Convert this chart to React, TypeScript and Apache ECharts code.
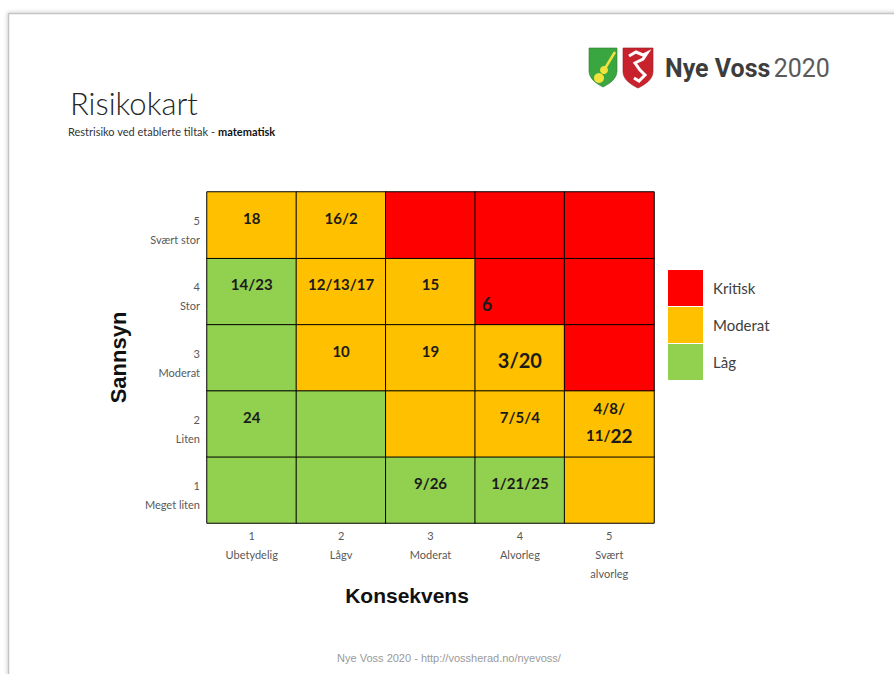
import React, { useEffect, useRef } from "react";
import * as echarts from "echarts";

// ---- data ----
const xTicks = ["1", "2", "3", "4", "5"];
const consequences = ["Ubetydelig", "Lågv", "Moderat", "Alvorleg", "Svært\nalvorleg"];
const yTicks = ["1", "2", "3", "4", "5"];
const likelihoods = ["Meget liten", "Liten", "Moderat", "Stor", "Svært stor"];
const levelNames = ["Låg", "Moderat", "Kritisk"];
const levelColors = ["#92D050", "#FFC000", "#FF0000"];
// risk level per cell; rows from likelihood 1 (bottom) to 5 (top); 0 = Låg, 1 = Moderat, 2 = Kritisk
const riskRows = [
  [0, 0, 0, 0, 1],
  [0, 0, 1, 1, 1],
  [0, 1, 1, 1, 2],
  [0, 1, 1, 2, 2],
  [1, 1, 2, 2, 2],
];
const cellLabels = [
  ["", "", "9/26", "1/21/25", ""],
  ["24", "", "", "7/5/4", "4/8/\n11/22"],
  ["", "10", "19", "3/20", ""],
  ["14/23", "12/13/17", "15", "6", ""],
  ["18", "16/2", "", "", ""],
];

const FONT = "Lato, 'Noto Sans', sans-serif";

let registered = false;
function registerShapes() {
  if (registered) return;
  registered = true;
  const shield = "M0,0 L28,0 L28,23 C28,31 20,36 14,39 C8,36 0,31 0,23 Z";
  echarts.graphic.registerShape("shield", echarts.graphic.extendPath(shield, {}) as any);
}

function cellLabelStyle(text: string): any {
  if (text.includes("\n")) {
    return { offset: [0, -2], lineHeight: 27 };
  }
  if (text === "6") return { offset: [-33, 13], fontSize: 18 };
  if (text === "3/20") return { offset: [0, 2], fontSize: 20 };
  return {};
}

function formatCell(text: string): string {
  if (!text.includes("\n")) return text;
  return text
    .split("\n")
    .map((line) => {
      const m = line.match(/^(.*\/)(\d+)$/);
      return m ? `{a|${m[1]}}{b|${m[2]}}` : `{a|${line}}`;
    })
    .join("\n");
}

export default function App() {
  const ref = useRef<HTMLDivElement>(null);
  useEffect(() => {
    registerShapes();
    const chart = echarts.init(ref.current!, null, { renderer: "svg" });

    const data: any[] = [];
    riskRows.forEach((row, y) =>
      row.forEach((lvl, x) => {
        const text = cellLabels[y][x];
        data.push({ value: [x, y, lvl], name: text, label: cellLabelStyle(text) });
      })
    );

    const axisRich = {
      n: { fontSize: 11, lineHeight: 19, color: "#595959", fontFamily: FONT },
      t: { fontSize: 11, lineHeight: 19, color: "#595959", fontFamily: FONT },
    };

    const option: any = {
      animation: false,
      title: [
        {
          text: "Risikokart",
          left: 65,
          top: 82,
          textStyle: { fontSize: 31, fontWeight: 300, fontFamily: FONT, color: "#262626" },
        },
        {
          text: "{r|Restrisiko ved etablerte tiltak - }{b|matematisk}",
          left: 63,
          top: 121,
          textStyle: {
            fontWeight: "normal",
            rich: {
              r: { fontSize: 11, color: "#333", fontWeight: "normal", fontFamily: FONT },
              b: { fontSize: 11, color: "#111", fontWeight: "bold", fontFamily: FONT },
            },
          },
        },
      ],
      grid: { left: 207, top: 192, width: 447, height: 331 },
      xAxis: {
        type: "category",
        data: xTicks,
        axisLine: { show: false },
        axisTick: { show: false },
        splitLine: { show: false },
        axisLabel: {
          interval: 0,
          margin: 3,
          formatter: (v: string, i: number) =>
            `{n|${v}}\n` + consequences[i].split("\n").map((s) => `{t|${s}}`).join("\n"),
          rich: axisRich,
          verticalAlign: "top",
        },
        name: "Konsekvens",
        nameLocation: "middle",
        nameGap: 62,
        nameTextStyle: {
          fontSize: 21,
          fontWeight: "bold",
          fontFamily: "'Liberation Sans', Arial, sans-serif",
          color: "#111",
          padding: [0, 47, 0, 0],
        },
      },
      yAxis: {
        type: "category",
        data: yTicks,
        axisLine: { show: false },
        axisTick: { show: false },
        splitLine: { show: false },
        axisLabel: {
          interval: 0,
          margin: 7,
          padding: [10, 0, 0, 0],
          formatter: (v: string, i: number) => `{n|${v}}\n{t|${likelihoods[i]}}`,
          rich: axisRich,
        },
        name: "Sannsyn",
        nameLocation: "middle",
        nameRotate: 90,
        nameGap: 78,
        nameTextStyle: {
          fontSize: 22,
          fontWeight: "bold",
          fontFamily: "'Liberation Sans', Arial, sans-serif",
          color: "#111",
        },
      },
      visualMap: {
        type: "piecewise",
        dimension: 2,
        seriesIndex: 0,
        orient: "vertical",
        align: "left",
        left: 668,
        top: 270,
        padding: 0,
        itemWidth: 35,
        itemHeight: 36,
        itemGap: 1,
        itemSymbol: "rect",
        textGap: 10,
        selectedMode: false,
        pieces: levelNames
          .map((name, i) => ({ value: i, label: name, color: levelColors[i] }))
          .reverse(),
        textStyle: { fontSize: 15, color: "#404040", fontFamily: FONT },
      },
      series: [
        {
          type: "heatmap",
          data,
          itemStyle: { borderColor: "#000", borderWidth: 1 },
          emphasis: { disabled: true },
          label: {
            show: true,
            offset: [0, -7],
            fontSize: 15,
            fontWeight: "bold",
            fontFamily: FONT,
            color: "#1b1b1b",
            formatter: (p: any) => formatCell(p.name),
            rich: {
              a: { fontSize: 15, fontWeight: "bold", fontFamily: FONT, color: "#1b1b1b", lineHeight: 27 },
              b: { fontSize: 19, fontWeight: "bold", fontFamily: FONT, color: "#1b1b1b", lineHeight: 27 },
            },
          },
        },
      ],
      graphic: [
        {
          type: "rect",
          z: -100,
          shape: { x: 8.5, y: 13.5, width: 900, height: 700 },
          style: {
            fill: "#fff",
            stroke: "#c4c4c4",
            lineWidth: 1.5,
            shadowBlur: 4,
            shadowColor: "rgba(0,0,0,0.25)",
          },
          silent: true,
        },
        {
          type: "shield",
          x: 589,
          y: 48,
          scaleX: 1,
          scaleY: 1,
          style: { fill: "#3aa63f", stroke: "#2b7d30", lineWidth: 0.6 },
        },
        {
          type: "circle",
          shape: { cx: 599, cy: 78, r: 5 },
          style: { fill: "#f1e23c" },
        },
        {
          type: "circle",
          shape: { cx: 604, cy: 70, r: 4 },
          style: { fill: "#f1e23c" },
        },
        {
          type: "line",
          shape: { x1: 604, y1: 70, x2: 615, y2: 52 },
          style: { stroke: "#f1e23c", lineWidth: 2.5 },
        },
        {
          type: "shield",
          x: 623,
          y: 48,
          scaleX: 30 / 28,
          scaleY: 40 / 39,
          style: { fill: "#c8232c", stroke: "#9c1a20", lineWidth: 0.6 },
        },
        {
          type: "polyline",
          shape: {
            points: [
              [629, 56],
              [636, 52],
              [643, 55],
              [647, 53],
              [643, 59],
              [635, 63],
              [640, 70],
              [645, 75],
              [639, 81],
              [634, 78],
            ],
          },
          style: { stroke: "#fff", lineWidth: 3, fill: "none" },
        },
        {
          type: "text",
          x: 665,
          y: 68,
          style: {
            text: "{b|Nye Voss} {r|2020}",
            verticalAlign: "middle",
            rich: {
              b: { fontSize: 25, fontWeight: "bold", fontFamily: "Roboto, sans-serif", fill: "#3d3d3d" },
              r: { fontSize: 25, fontWeight: "normal", fontFamily: "Roboto, sans-serif", fill: "#5a5a5a" },
            },
          },
        },
        {
          type: "text",
          x: 449,
          y: 658,
          style: {
            text: "Nye Voss 2020 - http://vossherad.no/nyevoss/",
            align: "center",
            verticalAlign: "middle",
            fontSize: 11,
            fontFamily: "'Liberation Sans', Arial, sans-serif",
            fill: "#9a9a9a",
          },
        },
      ],
    };
    chart.setOption(option);
    return () => chart.dispose();
  }, []);
  return (
    <div
      ref={ref}
      style={{ position: "fixed", left: 0, top: 0, width: 894, height: 674, background: "#fff" }}
    />
  );
}
